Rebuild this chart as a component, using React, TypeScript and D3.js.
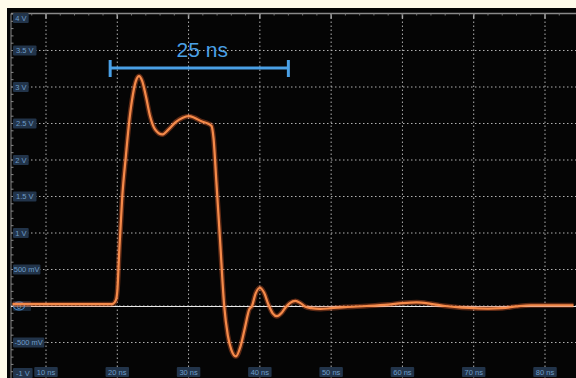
import React from "react";
import * as d3 from "d3";

const timeNs = [5.3, 10, 15, 19, 19.4, 19.8, 20.0, 20.3, 20.7, 21.2, 21.7, 22.2, 22.6, 23.05, 23.5, 24.0, 24.6, 25.3, 26.3, 27.2, 28.2, 29.2, 30.0, 30.8, 31.8, 32.7, 33.2, 33.5, 33.9, 34.4, 35.0, 35.5, 36.0, 36.65, 37.3, 37.9, 38.5, 38.9, 39.4, 40.0, 40.6, 41.2, 41.8, 42.4, 43.0, 43.6, 44.2, 45.0, 45.7, 46.4, 47.2, 48.5, 50, 52, 55, 58, 60, 62, 64, 66, 68, 70, 72, 74, 76, 78, 80, 84];
const voltage = [0.025, 0.025, 0.025, 0.025, 0.03, 0.08, 0.2, 0.8, 1.5, 2.05, 2.55, 2.9, 3.08, 3.15, 3.08, 2.88, 2.6, 2.42, 2.35, 2.42, 2.52, 2.58, 2.6, 2.58, 2.53, 2.5, 2.47, 2.3, 1.7, 0.93, 0.0, -0.4, -0.6, -0.69, -0.55, -0.3, -0.05, 0.0, 0.17, 0.25, 0.18, 0.02, -0.1, -0.14, -0.1, -0.02, 0.04, 0.07, 0.04, -0.01, -0.03, -0.04, -0.03, -0.015, 0.0, 0.02, 0.04, 0.05, 0.03, 0.0, -0.02, -0.03, -0.035, -0.03, -0.005, 0.01, 0.01, 0.01];

const timeTicks = [10, 20, 30, 40, 50, 60, 70, 80];
const timeTickLabels = ["10 ns", "20 ns", "30 ns", "40 ns", "50 ns", "60 ns", "70 ns", "80 ns"];
const voltTicks = [4, 3.5, 3, 2.5, 2, 1.5, 1, 0.5, 0, -0.5, -1];
const voltTickLabels = ["4 V", "3.5 V", "3 V", "2.5 V", "2 V", "1.5 V", "1 V", "500 mV", "0", "-500 mV", "-1 V"];
const scaleBarNs = [19, 44];
const scaleBarLabel = "25 ns";

const W = 576;
const H = 378;
const FONT = "Liberation Sans, Arial, sans-serif";

export default function App() {
  const x = d3.scaleLinear().domain([10, 80]).range([46, 545]);
  const y = d3.scaleLinear().domain([-1, 4]).range([379, 14]);
  const pts = timeNs.map((t, i) => [t, voltage[i]] as [number, number]);
  const line = d3
    .line<[number, number]>()
    .x((d) => x(d[0]))
    .y((d) => y(d[1]))
    .curve(d3.curveMonotoneX);
  const path = line(pts) || "";

  const panelLeft = 7;
  const axisX = 11;
  const topY = 13.5;

  const minorV = d3.range(-1, 4.001, 0.1);
  const minorT = d3.range(6, 84, 2);

  const labelBox = (txt: string, cx: number, cy: number, anchor: "start" | "middle", key: string) => {
    const w = txt.length * 3.9 + 4;
    const bx = anchor === "start" ? cx : cx - w / 2;
    return (
      <g key={key}>
        <rect x={bx} y={cy - 5} width={w} height={10} fill="#22344a" rx={1} />
        <text
          x={bx + w / 2}
          y={cy + 2.6}
          fontSize={7.5}
          fontFamily={FONT}
          fill="#6e9cc8"
          textAnchor="middle"
        >
          {txt}
        </text>
      </g>
    );
  };

  return (
    <svg
      width={W}
      height={H}
      style={{ position: "absolute", left: 0, top: 0 }}
    >
      <rect x={0} y={0} width={W} height={H} fill="#fffbea" />
      <rect x={panelLeft} y={8} width={W - panelLeft} height={H - 8} fill="#050505" />

      {/* horizontal dotted grid */}
      {voltTicks.filter((v) => v < 4).map((v) => (
        <line
          key={"h" + v}
          x1={axisX}
          x2={W}
          y1={y(v)}
          y2={y(v)}
          stroke="#b0b0b0"
          strokeWidth={1}
          strokeDasharray="1.5,2.5"
        />
      ))}
      {/* vertical dotted grid */}
      {timeTicks.map((t) => (
        <g key={"v" + t}>
          <line
            x1={x(t)}
            x2={x(t)}
            y1={topY}
            y2={H}
            stroke="#b0b0b0"
            strokeWidth={1}
            strokeDasharray="1.5,2.5"
          />
          <line x1={x(t)} x2={x(t)} y1={topY} y2={topY + 5} stroke="#aaa" strokeWidth={1.5} />
        </g>
      ))}

      {/* top border */}
      <line x1={axisX} x2={W} y1={topY} y2={topY} stroke="#8a8a8a" strokeWidth={1.5} />
      {minorT.map((t) => (
        <line key={"mt" + t} x1={x(t)} x2={x(t)} y1={topY} y2={topY + 2} stroke="#777" strokeWidth={1} />
      ))}
      {/* left border */}
      <line x1={axisX} x2={axisX} y1={topY} y2={H} stroke="#8a8a8a" strokeWidth={1} />
      {minorV.map((v, i) => (
        <line
          key={"mv" + i}
          x1={axisX}
          x2={axisX + (i % 5 === 0 ? 5 : 2.5)}
          y1={y(v)}
          y2={y(v)}
          stroke="#8a8a8a"
          strokeWidth={1}
        />
      ))}

      {/* zero reference line */}
      <line x1={axisX} x2={W} y1={y(0) + 0.5} y2={y(0) + 0.5} stroke="#e8e8e8" strokeWidth={1} />

      {/* voltage labels */}
      {voltTicks.map((v, i) =>
        v === 0 ? (
          <g key="zero">
            <rect x={13} y={y(0) - 5} width={18} height={10} fill="#22344a" rx={1} opacity={0.7} />
            <ellipse cx={19} cy={y(0)} rx={5.5} ry={4} fill="none" stroke="#4a8fd0" strokeWidth={1.2} />
            <text x={19} y={y(0) + 2.6} fontSize={7.5} fontFamily={FONT} fill="#6e9cc8" textAnchor="middle">
              {voltTickLabels[i]}
            </text>
          </g>
        ) : (
          labelBox(voltTickLabels[i], 13, v === -1 ? 373 : v === 4 ? 18 : y(v), "start", "vl" + i)
        )
      )}
      {/* time labels */}
      {timeTicks.map((t, i) => labelBox(timeTickLabels[i], x(t), 372, "middle", "tl" + i))}

      {/* waveform */}
      <path d={path} fill="none" stroke="#e0602a" strokeOpacity={0.4} strokeWidth={5} strokeLinejoin="round" />
      <path d={path} fill="none" stroke="#f58a4a" strokeWidth={2.2} strokeLinejoin="round" />

      {/* scale bar */}
      <g stroke="#4aa0e6" strokeWidth={3}>
        <line x1={x(scaleBarNs[0])} x2={x(scaleBarNs[1])} y1={68} y2={68} />
        <line x1={x(scaleBarNs[0])} x2={x(scaleBarNs[0])} y1={60} y2={77} />
        <line x1={x(scaleBarNs[1])} x2={x(scaleBarNs[1])} y1={60} y2={77} />
      </g>
      <text
        x={(x(scaleBarNs[0]) + x(scaleBarNs[1])) / 2 + 3}
        y={57}
        fontSize={21}
        fontFamily={FONT}
        fill="#4aa0e6"
        textAnchor="middle"
      >
        {scaleBarLabel}
      </text>
    </svg>
  );
}
